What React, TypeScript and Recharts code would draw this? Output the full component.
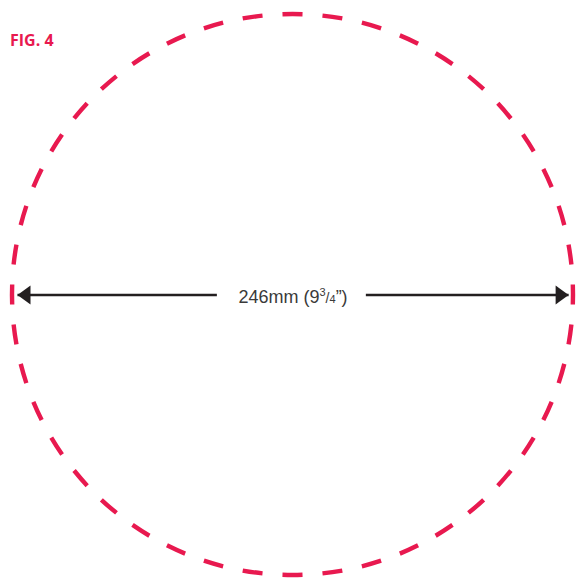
import React from "react"
import {
  PieChart,
  Pie,
  Cell,
  LineChart,
  Line,
  XAxis,
  YAxis,
  ReferenceDot,
} from "recharts"

// dashed outline of the template: one entry per dash, all equal length
const dashes = [
  1, 1, 1, 1, 1, 1, 1, 1, 1, 1, 1,
  1, 1, 1, 1, 1, 1, 1, 1, 1, 1, 1,
  1, 1, 1, 1, 1, 1, 1, 1, 1, 1, 1,
  1, 1, 1, 1, 1, 1, 1, 1, 1, 1, 1,
]

// diameter arrow, in mm from the centre (null = gap for the label)
const arrowMm = [-123, -34, 0, 32.5, 123]
const arrowY = [0, 0, null, 0, 0]

const diameterText = "246mm (9"
const fracTop = "3"
const fracBottom = "4"
const figureTitle = "FIG. 4"

const RED = "#E8194F"
const INK = "#231F20"

const W = 576
const H = 578

const arrowData = arrowMm.map((mm, i) => ({ mm, y: arrowY[i] }))
const pieData = dashes.map((v, i) => ({ name: `dash${i}`, v }))

const Arrowhead = (props: any) => {
  const { cx, cy, index } = props
  if (cx == null || cy == null || (index !== 0 && index !== arrowData.length - 1)) {
    return <g key={`ah-${index}`} />
  }
  const dir = index === 0 ? 1 : -1
  const len = 13
  const half = 9.5
  const pts = `${cx},${cy} ${cx + dir * len},${cy - half} ${cx + dir * len},${cy + half}`
  return <polygon key={`ah-${index}`} points={pts} fill={INK} />
}

const DiameterLabel = (props: any) => {
  const vb = props.viewBox || {}
  const x = (vb.x ?? 0) + (vb.width ?? 0) / 2
  const y = (vb.y ?? 0) + (vb.height ?? 0) / 2
  return (
    <text
      x={x}
      y={y + 7.5}
      textAnchor="middle"
      fontFamily="'Liberation Sans', Arial, sans-serif"
      fontSize={18}
      fill="#3a3a3a"
    >
      {diameterText}
      <tspan fontSize={11} dy={-6.5}>{fracTop}</tspan>
      <tspan fontSize={14} dy={6.5}>/</tspan>
      <tspan fontSize={11}>{fracBottom}</tspan>
      <tspan>{"\u201D)"}</tspan>
    </text>
  )
}

const App = () => {
  const pad = 360 / (dashes.length * 2)
  return (
    <div style={{ position: "absolute", left: 0, top: 0, width: W, height: H, background: "#fff" }}>
      <div
        style={{
          position: "absolute",
          left: 10,
          top: 30,
          fontFamily: "'Open Sans', 'Noto Sans', sans-serif",
          fontWeight: 700,
          fontSize: 16,
          lineHeight: "20px",
          color: RED,
        }}
      >
        {figureTitle}
      </div>
      <div style={{ position: "absolute", left: 0, top: 0 }}>
        <PieChart width={W} height={H} margin={{ top: 0, right: 0, bottom: 0, left: 0 }}>
          <Pie
            data={pieData}
            dataKey="v"
            cx={292.5}
            cy={294.5}
            innerRadius={278.3}
            outerRadius={282.7}
            startAngle={-pad / 2}
            endAngle={360 - pad / 2}
            paddingAngle={pad}
            stroke="none"
            isAnimationActive={false}
          >
            {pieData.map((d) => (
              <Cell key={d.name} fill={RED} />
            ))}
          </Pie>
        </PieChart>
      </div>
      <div style={{ position: "absolute", left: 0, top: 0 }}>
        <LineChart
          width={W}
          height={H}
          data={arrowData}
          margin={{ top: 12, right: 0, bottom: 0, left: 0 }}
        >
          <XAxis dataKey="mm" type="number" domain={[-130.8, 126.3]} hide />
          <YAxis type="number" domain={[-1, 1]} hide />
          <Line
            dataKey="y"
            type="linear"
            stroke={INK}
            strokeWidth={2.6}
            dot={Arrowhead}
            activeDot={false}
            connectNulls={false}
            isAnimationActive={false}
          />
          <ReferenceDot
            x={0}
            y={0}
            r={0}
            fill="none"
            stroke="none"
            label={{ content: DiameterLabel }}
          />
        </LineChart>
      </div>
    </div>
  )
}

export default App
